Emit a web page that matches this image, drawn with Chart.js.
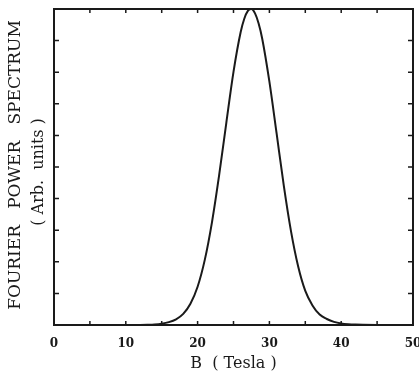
<!DOCTYPE html>
<html>
<head>
<meta charset="utf-8">
<script src="https://cdn.jsdelivr.net/npm/chart.js@4.4.1/dist/chart.umd.min.js"></script>
<style>
html,body{margin:0;padding:0;background:#fff;}
#wrap{width:419px;height:373px;position:relative;}
</style>
</head>
<body>
<div id="wrap"><canvas id="c" width="419" height="373"></canvas></div>
<script>
// Field B (Tesla)
const bField = [0, 5, 10, 12, 13, 14, 15, 16, 17, 18, 19, 20, 21, 22, 23, 24, 25, 26, 26.5, 27, 27.5, 28, 28.5, 29, 30, 31, 32, 33, 34, 35, 36, 37, 38, 39, 40, 41, 42, 43, 45, 50];
// Fourier power (arb. units)
const power = [0, 0, 0, 0.002, 0.006, 0.015, 0.04, 0.09, 0.18, 0.35, 0.67, 1.21, 2.06, 3.25, 4.74, 6.40, 8.01, 9.27, 9.69, 9.94, 10.0, 9.86, 9.54, 9.06, 7.70, 6.07, 4.42, 2.98, 1.86, 1.08, 0.62, 0.33, 0.19, 0.10, 0.05, 0.025, 0.012, 0.005, 0, 0];
const xTickLabels = ["0", "10", "20", "30", "40", "50"];
const xTitle = "B  ( Tesla )";
const yTitle1 = "FOURIER   POWER   SPECTRUM";
const yTitle2 = "( Arb.  units )";

const ink = '#1a1a1a';

const framePlugin = {
  id: 'frame',
  afterDraw(chart) {
    const {ctx, chartArea: a, scales: {x, y}} = chart;
    ctx.save();
    ctx.strokeStyle = ink;
    ctx.lineWidth = 2;
    ctx.strokeRect(a.left, a.top, a.right - a.left, a.bottom - a.top);
    ctx.lineWidth = 1.5;
    ctx.beginPath();
    for (let v = 5; v < 50; v += 5) {
      const px = x.getPixelForValue(v);
      ctx.moveTo(px, a.bottom); ctx.lineTo(px, a.bottom - 4);
      ctx.moveTo(px, a.top); ctx.lineTo(px, a.top + 4);
    }
    for (let v = 1; v < 10; v += 1) {
      const py = y.getPixelForValue(v);
      ctx.moveTo(a.left, py); ctx.lineTo(a.left + 5, py);
      ctx.moveTo(a.right, py); ctx.lineTo(a.right - 5, py);
    }
    ctx.stroke();
    // y axis titles
    const cy = (a.top + a.bottom) / 2;
    ctx.fillStyle = ink;
    ctx.textAlign = 'center';
    ctx.textBaseline = 'middle';
    ctx.translate(16, cy - 2);
    ctx.rotate(-Math.PI / 2);
    ctx.font = '17px "DejaVu Serif"';
    ctx.fillText(yTitle1, 0, 0);
    ctx.restore();
    ctx.save();
    ctx.fillStyle = ink;
    ctx.textAlign = 'center';
    ctx.textBaseline = 'middle';
    ctx.translate(39, cy + 5);
    ctx.rotate(-Math.PI / 2);
    ctx.font = '16px "DejaVu Serif"';
    ctx.fillText(yTitle2, 0, 0);
    ctx.restore();
  }
};

new Chart(document.getElementById('c'), {
  type: 'line',
  data: {
    datasets: [{
      data: bField.map((b, i) => ({x: b, y: power[i]})),
      borderColor: ink,
      borderWidth: 2,
      pointRadius: 0,
      fill: false,
      cubicInterpolationMode: 'monotone',
      clip: 2
    }]
  },
  options: {
    responsive: false,
    animation: false,
    devicePixelRatio: 1,
    layout: {padding: {left: 0, right: 6, top: 9, bottom: 0}},
    plugins: {legend: {display: false}, tooltip: {enabled: false}},
    scales: {
      x: {
        type: 'linear', min: 0, max: 50,
        afterFit(s) { s.height = 48; s.paddingLeft = 0; s.paddingRight = 0; },
        grid: {display: false, drawTicks: false},
        border: {display: false},
        ticks: {
          stepSize: 10,
          padding: 12,
          maxRotation: 0,
          color: ink,
          font: {family: '"DejaVu Serif"', size: 12, weight: 'bold'},
          callback: (v) => xTickLabels[Math.round(v / 10)]
        },
        title: {
          display: true, text: xTitle, color: ink,
          font: {family: '"DejaVu Serif"', size: 16},
          padding: {top: 2, bottom: 0}
        }
      },
      y: {
        min: 0, max: 10,
        afterFit(s) { s.width = 54; },
        grid: {display: false, drawTicks: false},
        border: {display: false},
        ticks: {display: false}
      }
    }
  },
  plugins: [framePlugin]
});
</script>
</body>
</html>
